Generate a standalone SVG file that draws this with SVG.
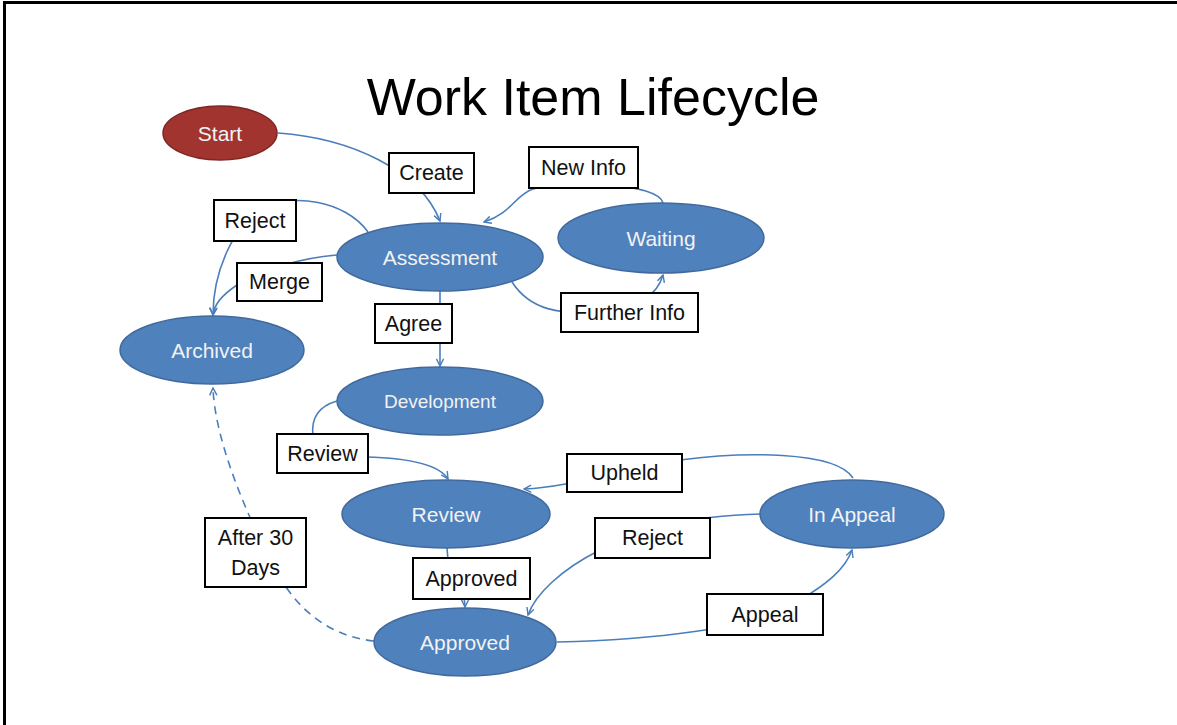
<svg xmlns="http://www.w3.org/2000/svg" width="1177" height="725" viewBox="0 0 1177 725">
<defs>
<style>
.node ellipse{fill:#4F81BD;stroke:#41699C;stroke-width:1.5}
.node text{fill:#F2F2F2;font-family:"Liberation Sans",Arial,sans-serif;font-size:21px;text-anchor:middle;dominant-baseline:central}
.lbl rect{fill:#fff;stroke:#000;stroke-width:2}
.lbl text{fill:#111;font-family:"Liberation Sans",Arial,sans-serif;font-size:21.5px;text-anchor:middle;dominant-baseline:central}
.edge{fill:none;stroke:#4A7EBB;stroke-width:1.6;marker-end:url(#arr)}
.dash{stroke-dasharray:8 6}
</style>
<marker id="arr" viewBox="0 0 10 10" refX="9" refY="5" markerWidth="9" markerHeight="9" orient="auto" markerUnits="userSpaceOnUse">
<path d="M1,1 L9,5 L1,9" fill="none" stroke="#4A7EBB" stroke-width="1.6"/>
</marker>
</defs>
<rect width="1177" height="725" fill="#fff"/>
<path d="M4.5,725 L4.5,2.5 L1177,2.5" fill="none" stroke="#000" stroke-width="3"/>
<text x="593" y="115" font-family="Liberation Sans,Arial,sans-serif" font-size="52" text-anchor="middle" fill="#000">Work Item Lifecycle</text>

<g id="connectors">
<path class="edge" d="M278,133 C350,138 420,170 440,221"/>
<path class="edge" d="M663,203 C658,183 570,180 533,189 C515,195 512,213 484,222"/>
<path class="edge" d="M368,232 C345,200 290,192 260,210 C235,225 213,270 213,315"/>
<path class="edge" d="M337,255 C300,258 260,270 237,285 C225,293 214,303 213,315"/>
<path class="edge" d="M512,282 C530,310 560,315 600,312 C640,308 657,295 663,275"/>
<path class="edge" d="M440,291 L440,366"/>
<path class="edge" d="M337,401 C316,407 311,420 313,436 M366,457 C405,458 438,463 448,479"/>
<path class="edge" d="M853,478 C835,450 740,452 680,460 C620,470 570,487 524,489"/>
<path class="edge" d="M761,514 C700,516 640,525 600,550 C560,570 535,595 528,615"/>
<path class="edge" d="M557,642 C640,640 760,630 800,600 C825,585 845,570 852,550"/>
<path class="edge" d="M447,548 C447,575 465,585 465,607"/>
<path class="edge dash" d="M374,641 C320,635 290,600 270,560 C245,510 215,440 213,388"/>
</g>

<g id="node-start" class="node"><ellipse cx="220" cy="133" rx="57" ry="27" style="fill:#A2342F;stroke:#7E2623"/><text x="220" y="133">Start</text></g>
<g id="node-assessment" class="node"><ellipse cx="440" cy="257" rx="103" ry="34"/><text x="440" y="257">Assessment</text></g>
<g id="node-waiting" class="node"><ellipse cx="661" cy="238" rx="103" ry="35"/><text x="661" y="238">Waiting</text></g>
<g id="node-archived" class="node"><ellipse cx="212" cy="350" rx="92" ry="34"/><text x="212" y="350">Archived</text></g>
<g id="node-development" class="node"><ellipse cx="440" cy="401" rx="103" ry="34"/><text x="440" y="401" style="font-size:19px">Development</text></g>
<g id="node-review" class="node"><ellipse cx="446" cy="514" rx="104" ry="34"/><text x="446" y="514">Review</text></g>
<g id="node-approved" class="node"><ellipse cx="465" cy="642" rx="91" ry="34"/><text x="465" y="642">Approved</text></g>
<g id="node-inappeal" class="node"><ellipse cx="852" cy="514" rx="92" ry="34"/><text x="852" y="514">In Appeal</text></g>

<g id="label-create" class="lbl"><rect x="389" y="153" width="85" height="40"/><text x="431.5" y="173">Create</text></g>
<g id="label-reject1" class="lbl"><rect x="214" y="200" width="82" height="41"/><text x="255" y="220.5">Reject</text></g>
<g id="label-merge" class="lbl"><rect x="237" y="263" width="85" height="38"/><text x="279.5" y="282">Merge</text></g>
<g id="label-newinfo" class="lbl"><rect x="529" y="147" width="109" height="41"/><text x="583.5" y="167.5">New Info</text></g>
<g id="label-furtherinfo" class="lbl"><rect x="561" y="293" width="137" height="39"/><text x="629.5" y="312.5">Further Info</text></g>
<g id="label-agree" class="lbl"><rect x="375" y="304" width="77" height="39"/><text x="413.5" y="323.5">Agree</text></g>
<g id="label-review" class="lbl"><rect x="277" y="434" width="91" height="39"/><text x="322.5" y="453.5">Review</text></g>
<g id="label-after30" class="lbl"><rect x="205" y="518" width="101" height="69"/><text x="255.5" y="538">After 30</text><text x="255.5" y="568">Days</text></g>
<g id="label-approved" class="lbl"><rect x="413" y="558" width="117" height="41"/><text x="471.5" y="578.5">Approved</text></g>
<g id="label-upheld" class="lbl"><rect x="567" y="454" width="115" height="38"/><text x="624.5" y="473">Upheld</text></g>
<g id="label-reject2" class="lbl"><rect x="595" y="518" width="115" height="40"/><text x="652.5" y="538">Reject</text></g>
<g id="label-appeal" class="lbl"><rect x="707" y="594" width="116" height="41"/><text x="765" y="614.5">Appeal</text></g>
</svg>
